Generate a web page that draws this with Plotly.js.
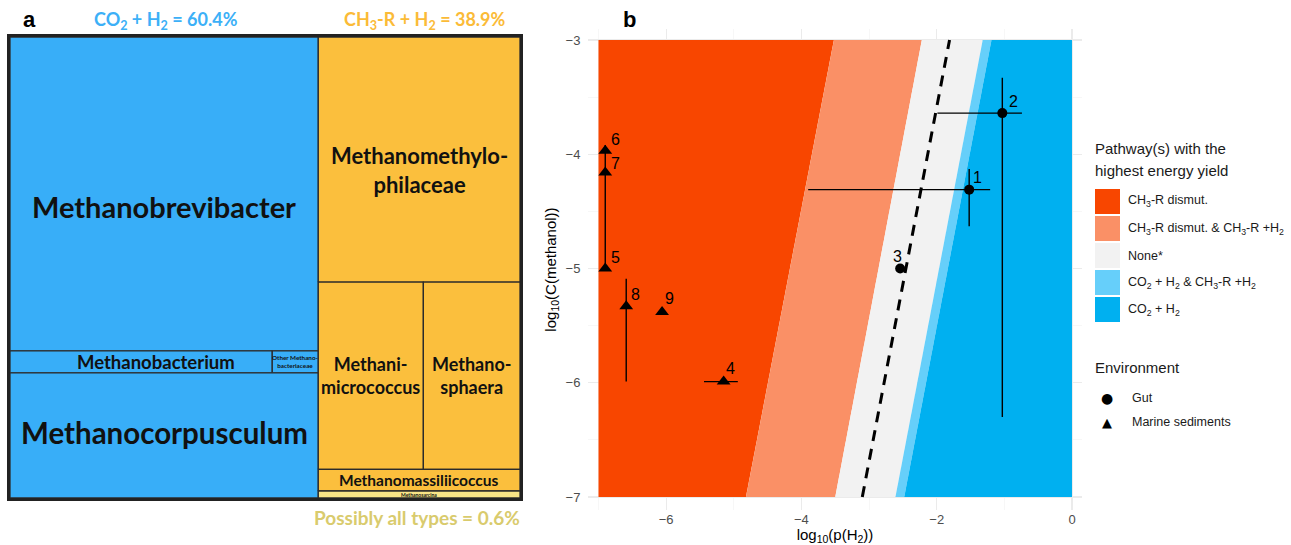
<!DOCTYPE html>
<html><head><meta charset="utf-8">
<script src="https://cdn.plot.ly/plotly-3.0.1.min.js"></script>
<style>html,body{margin:0;padding:0;background:#fff}#chart{width:1291px;height:545px}</style>
</head><body><div id="chart"></div>
<script>
// ---------------- Panel a data (treemap, % of taxa) ----------------
const taxa = ['Methanobrevibacter','Methanobacterium','Other Methanobacteriaceae','Methanocorpusculum',
  'Methanomethylophilaceae','Methanimicrococcus','Methanosphaera','Methanomassiliicoccus','Methanosarcina'];
const taxonLabels = ['Methanobrevibacter','Methanobacterium','Other Methano-<br>bacteriaceae','Methanocorpusculum',
  'Methanomethylo-<br>philaceae','Methani-<br>micrococcus','Methano-<br>sphaera','Methanomassiliicoccus','Methanosarcina'];
const taxonShare = [41.1, 2.45, 0.43, 16.4, 21.0, 8.36, 7.69, 1.86, 0.6];
const taxonColumn = [0,0,0,0,1,1,1,1,1];
const taxonRow = [0,1,1,2,0,1,1,2,3];
const taxonPathway = ['co2','co2','co2','co2','ch3','ch3','ch3','ch3','all'];
const headerLabels = ['CO<sub>2</sub> + H<sub>2</sub> = 60.4%','CH<sub>3</sub>-R + H<sub>2</sub> = 38.9%','Possibly all types = 0.6%'];

// ---------------- Panel b data ----------------
const regionNames = ['CH<sub>3</sub>-R dismut.','CH<sub>3</sub>-R dismut. &amp; CH<sub>3</sub>-R +H<sub>2</sub>','None*',
  'CO<sub>2</sub> + H<sub>2</sub> &amp; CH<sub>3</sub>-R +H<sub>2</sub>','CO<sub>2</sub> + H<sub>2</sub>'];
const boundaryAtBottom = [-4.82, -3.50, -2.61, -2.48]; // x where boundary meets y = -7
const boundaryAtTop    = [-3.52, -2.22, -1.32, -1.19]; // x where boundary meets y = -3
const xLimits = [-7, 0];
const yLimits = [-7, -3];
const dashedX = [-3.10, -1.81];
const dashedY = [-7, -3];

const gutIds = ['1','2','3'];
const gutX = [-1.52, -1.03, -2.54];
const gutY = [-4.31, -3.64, -5.0];
const gutXLow  = [-3.90, -1.99, null];
const gutXHigh = [-1.21, -0.74, null];
const gutYLow  = [-4.63, -6.30, null];
const gutYHigh = [-4.13, -3.33, null];

const marineIds = ['4','5','6','7','8','9'];
const marineX = [-5.15, -6.90, -6.90, -6.90, -6.59, -6.06];
const marineY = [-5.99, -5.00, -3.97, -4.16, -5.33, -5.38];
const marineXLow  = [-5.44, null, null, null, null, null];
const marineXHigh = [-4.94, null, null, null, null, null];
const marineYLow  = [null, null, null, -5.00, -5.99, null];
const marineYHigh = [null, null, null, -3.92, -5.09, null];

const envNames = ['Gut','Marine sediments'];

// ---------------- styles ----------------
const regionColors = ['#f84600','#fa9066','#f2f2f2','#66cffa','#00b0f0'];
const pathwayColors = {co2:'#38aef8', ch3:'#fbbf3d', all:'#f8e486'};
const headerColors = ['#3cb0f7','#fbbb37','#d9cb6d'];
const labelSizes = [29,18.5,6.3,29.5,22,18,18,15.5,5];
const labelShiftY = [-13,0,0,3,-10,0,0,0,0];
const labelShiftX = [0,15,0,0,0,0,0,0,0];
const gutLabelShift = [[6,11],[9,11],[-5,11]];
const marineLabelShift = [[5,12],[8,10],[8,10],[8,7.5],[7,11],[5,12]];
const W = 1291, H = 545;
const px = v => v / W, py = v => 1 - v / H;
const sansFont = 'Liberation Sans, Arial, sans-serif';
const treeFont = 'Lato, Open Sans, sans-serif';

const traces = [];
const annotations = [];
const shapes = [];
function paperText(x, y, text, font, xanchor) {
  annotations.push({xref:'paper', yref:'paper', x:px(x), y:py(y), text:text, showarrow:false,
    xanchor:xanchor||'center', yanchor:'middle', align:'left', font:font});
}

// ---------------- panel a : slice-dice layout from the shares ----------------
const total = taxonShare.reduce((a,b)=>a+b,0);
const columns = [...new Set(taxonColumn)];
let xCursor = 0;
columns.forEach(c => {
  const idxC = taxonShare.map((_,i)=>i).filter(i=>taxonColumn[i]===c);
  const colTotal = idxC.reduce((s,i)=>s+taxonShare[i],0);
  const colW = colTotal/total;
  const rows = [...new Set(idxC.map(i=>taxonRow[i]))];
  let yCursor = 1;
  rows.forEach(r => {
    const idxR = idxC.filter(i=>taxonRow[i]===r);
    const rowTotal = idxR.reduce((s,i)=>s+taxonShare[i],0);
    const rowH = rowTotal/colTotal;
    let xx = xCursor;
    idxR.forEach(i => {
      const w = colW*taxonShare[i]/rowTotal;
      const x0 = xx, x1 = xx+w, y1 = yCursor, y0 = yCursor-rowH;
      traces.push({
        type:'scatter', mode:'lines', xaxis:'x2', yaxis:'y2',
        x:[x0,x1,x1,x0,x0], y:[y0,y0,y1,y1,y0], fill:'toself',
        fillcolor: pathwayColors[taxonPathway[i]],
        line:{color:'#2b2b2b', width:1.3}, hoverinfo:'text', text:taxa[i], showlegend:false
      });
      annotations.push({
        xref:'x2', yref:'y2', x:(x0+x1)/2, y:(y0+y1)/2, text:taxonLabels[i], showarrow:false,
        xanchor:'center', yanchor:'middle',
        xshift:labelShiftX[i], yshift:labelShiftY[i],
        font:{family:treeFont, size:labelSizes[i], color:'#111', weight:700}
      });
      xx = x1;
    });
    yCursor -= rowH;
  });
  xCursor += colW;
});

// headers and panel letters
paperText(166, 20, headerLabels[0], {family:treeFont,size:18,color:headerColors[0],weight:700});
paperText(425, 20, headerLabels[1], {family:treeFont,size:18,color:headerColors[1],weight:700});
paperText(417, 517, headerLabels[2], {family:treeFont,size:19,color:headerColors[2],weight:700});
paperText(29, 19, 'a', {family:sansFont,size:22,color:'#000',weight:700});
paperText(629, 19, 'b', {family:sansFont,size:22,color:'#000',weight:700});

// ---------------- panel b : regions ----------------
const leftB = [xLimits[0]].concat(boundaryAtBottom);
const rightB = boundaryAtBottom.concat([xLimits[1]]);
const leftT = [xLimits[0]].concat(boundaryAtTop);
const rightT = boundaryAtTop.concat([xLimits[1]]);
regionNames.forEach((n,k) => {
  traces.push({
    type:'scatter', mode:'lines', xaxis:'x', yaxis:'y',
    x:[leftB[k], rightB[k], rightT[k], leftT[k], leftB[k]],
    y:[yLimits[0], yLimits[0], yLimits[1], yLimits[1], yLimits[0]],
    fill:'toself', fillcolor:regionColors[k], line:{width:0, color:regionColors[k]},
    hoverinfo:'skip', showlegend:false
  });
});
traces.push({type:'scatter', mode:'lines', x:dashedX, y:dashedY, xaxis:'x', yaxis:'y',
  line:{color:'#000', width:3, dash:'11px,8px'}, hoverinfo:'skip', showlegend:false});

function errs(v, low, high) {
  return {
    plus: v.map((val,i)=> high[i]==null ? 0 : high[i]-val),
    minus: v.map((val,i)=> low[i]==null ? 0 : val-low[i])
  };
}
function pointTrace(ids, X, Y, xl, xh, yl, yh, symbol, size, shifts) {
  const ex = errs(X, xl, xh), ey = errs(Y, yl, yh);
  ids.forEach((id,i) => {
    annotations.push({xref:'x', yref:'y', x:X[i], y:Y[i], text:id, showarrow:false,
      xanchor:'center', yanchor:'middle', xshift:shifts[i][0]+2, yshift:shifts[i][1]+1,
      font:{family:sansFont, size:16, color:'#000'}});
  });
  return {
    type:'scatter', mode:'markers', xaxis:'x', yaxis:'y', x:X, y:Y, text:ids,
    marker:{symbol:symbol, size:size, color:'#000'},
    error_x:{type:'data', array:ex.plus, arrayminus:ex.minus, color:'#000', thickness:1.4, width:0},
    error_y:{type:'data', array:ey.plus, arrayminus:ey.minus, color:'#000', thickness:1.4, width:0},
    showlegend:false, cliponaxis:false
  };
}
traces.push(pointTrace(gutIds, gutX, gutY, gutXLow, gutXHigh, gutYLow, gutYHigh, 'circle', 10, gutLabelShift));
traces.push(pointTrace(marineIds, marineX, marineY, marineXLow, marineXHigh, marineYLow, marineYHigh, 'triangle-up', 12, marineLabelShift));

// ---------------- custom legend ----------------
paperText(1093, 148, 'Pathway(s) with the', {family:sansFont,size:15,color:'#1a1a1a'}, 'left');
paperText(1093, 170, 'highest energy yield', {family:sansFont,size:15,color:'#1a1a1a'}, 'left');
regionNames.forEach((n,k) => {
  const top = 189 + 27*k;
  shapes.push({type:'rect', xref:'paper', yref:'paper', x0:px(1095), x1:px(1120), y0:py(top+25), y1:py(top),
    fillcolor:regionColors[k], line:{width:0}});
  paperText(1126, top+12.5, n, {family:sansFont,size:12.5,color:'#1a1a1a'}, 'left');
});
paperText(1093, 367, 'Environment', {family:sansFont,size:15,color:'#1a1a1a'}, 'left');
const envSymbols = ['●','▲'];
envNames.forEach((n,k) => {
  const yy = 398 + 24*k;
  paperText(1107, yy, envSymbols[k], {family:'DejaVu Sans',size:k===0?14:13,color:'#000'});
  paperText(1130, yy, n, {family:sansFont,size:12.5,color:'#1a1a1a'}, 'left');
});

const layout = {
  width:W, height:H, margin:{l:0,r:0,t:0,b:0}, paper_bgcolor:'#fff', plot_bgcolor:'rgba(0,0,0,0)',
  showlegend:false, font:{family:sansFont},
  xaxis:{domain:[px(588), px(1082)], range:[-7.155, 0.148], tickvals:[-6,-4,-2,0],
    showgrid:true, gridcolor:'#ebebeb', gridwidth:1.1, zeroline:false, showline:false,
    minor:{tickvals:[-7,-5,-3,-1], showgrid:true, gridcolor:'#f2f2f2', gridwidth:0.6},
    ticks:'', tickfont:{family:sansFont,size:13,color:'#4d4d4d'},
    title:{text:'log<sub>10</sub>(p(H<sub>2</sub>))', font:{family:sansFont,size:15,color:'#000'}, standoff:6}},
  yaxis:{domain:[py(510), py(29)], range:[-7.114, -2.904], tickvals:[-7,-6,-5,-4,-3],
    showgrid:true, gridcolor:'#ebebeb', gridwidth:1.1, zeroline:false, showline:false,
    minor:{tickvals:[-6.5,-5.5,-4.5,-3.5], showgrid:true, gridcolor:'#f2f2f2', gridwidth:0.6},
    ticks:'outside', ticklen:4, tickcolor:'rgba(0,0,0,0)',
    tickfont:{family:sansFont,size:13,color:'#4d4d4d'},
    title:{text:'log<sub>10</sub>(C(methanol))', font:{family:sansFont,size:15,color:'#000'}, standoff:5}},
  xaxis2:{domain:[px(10), px(520)], range:[0,1], showgrid:false, zeroline:false, showticklabels:false,
    ticks:'', showline:true, mirror:true, linewidth:3, linecolor:'#222', fixedrange:true, anchor:'y2'},
  yaxis2:{domain:[py(498), py(37)], range:[0,1], showgrid:false, zeroline:false, showticklabels:false,
    ticks:'', showline:true, mirror:true, linewidth:3, linecolor:'#222', fixedrange:true, anchor:'x2'},
  annotations: annotations, shapes: shapes
};

Plotly.newPlot('chart', traces, layout, {displayModeBar:false, staticPlot:true});
</script>
</body></html>
